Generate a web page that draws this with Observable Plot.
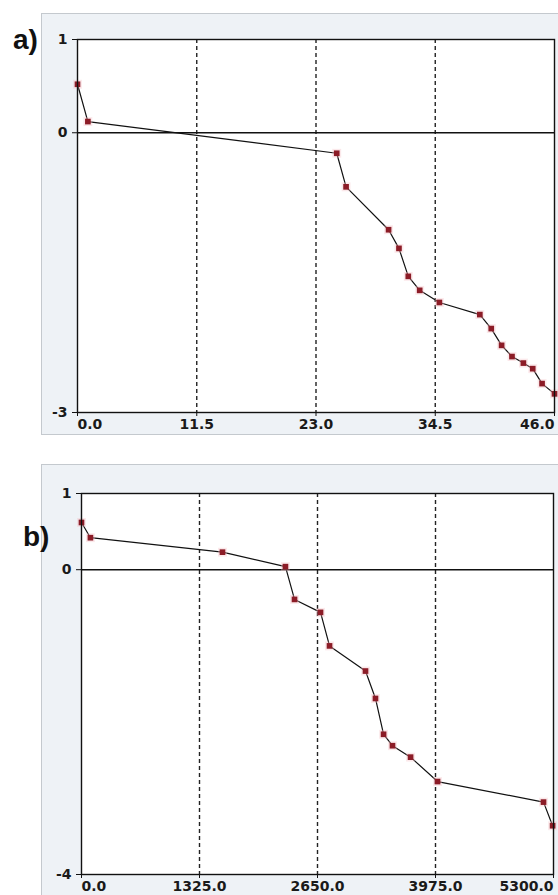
<!DOCTYPE html>
<html><head><meta charset="utf-8">
<script src="https://cdn.jsdelivr.net/npm/d3@7"></script>
<script src="https://cdn.jsdelivr.net/npm/@observablehq/plot@0.6"></script>
<style>
html,body{margin:0;padding:0;background:#fff;}
body{width:558px;height:895px;overflow:hidden;position:relative;}
.wrap{position:absolute;left:41px;border:1px solid #c4c9ce;border-right:none;background:#eef2f6;}
.wrap svg{display:block;}
.lbl{position:absolute;font:bold 28px/28px "Liberation Sans",Arial,sans-serif;color:#111;}
</style></head><body>
<div id="pa" class="wrap" style="top:13px;"></div>
<div id="pb" class="wrap" style="top:464px;border-bottom:none;"></div>
<div class="lbl" style="left:13px;top:26px;">a)</div>
<div class="lbl" style="left:23px;top:523px;">b)</div>
<script>
// ---- chart a) data ----
const xA = [0, 1.0, 25.0, 25.9, 30.0, 31.0, 31.9, 33.0, 34.9, 38.8, 39.9, 40.9, 41.9, 43.0, 43.9, 44.8, 46.0];
const yA = [0.52, 0.12, -0.22, -0.58, -1.04, -1.24, -1.54, -1.69, -1.82, -1.95, -2.10, -2.28, -2.40, -2.47, -2.53, -2.69, -2.80];
const xTicksA = [0, 11.5, 23.0, 34.5, 46.0];
const xTickLabelsA = ["0.0", "11.5", "23.0", "34.5", "46.0"];
const yTicksA = [1, 0, -3];
const yTickLabelsA = ["1", "0", "-3"];

// ---- chart b) data ----
const xB = [0, 100, 1583, 2290, 2392, 2684, 2785, 3189, 3301, 3392, 3492, 3695, 3998, 5188, 5290];
const yB = [0.62, 0.42, 0.23, 0.04, -0.39, -0.56, -1.00, -1.33, -1.69, -2.16, -2.31, -2.46, -2.78, -3.05, -3.36];
const xTicksB = [0, 1325, 2650, 3975, 5300];
const xTickLabelsB = ["0.0", "1325.0", "2650.0", "3975.0", "5300.0"];
const yTicksB = [1, 0, -4];
const yTickLabelsB = ["1", "0", "-4"];

function chart(xs, ys, xTicks, xLabels, yTicks, yLabels, dims) {
  const data = xs.map((x, i) => ({x, y: ys[i]}));
  const fmtX = d => xLabels[xTicks.indexOf(d)];
  const fmtY = d => yLabels[yTicks.indexOf(d)];
  const n = xTicks.length;
  const axOpts = {tickSize: 4, tickPadding: 3, tickFormat: fmtX, label: null, stroke: "#111", fill: "#1a1a1a"};
  return Plot.plot({
    width: 516,
    height: dims.h,
    marginTop: dims.mt,
    marginBottom: dims.mb,
    marginLeft: dims.ml,
    marginRight: dims.mr,
    style: {background: "#eef2f6", fontFamily: "'DejaVu Sans', Verdana, sans-serif", fontSize: "14px", fontWeight: "bold", color: "#1a1a1a"},
    x: {domain: [xTicks[0], xTicks[n - 1]]},
    y: {domain: [yTicks[yTicks.length - 1], yTicks[0]]},
    marks: [
      Plot.frame({fill: "white"}),
      Plot.ruleX(xTicks.slice(1, n - 1), {stroke: "#222", strokeWidth: 1.4, strokeDasharray: "4,3"}),
      Plot.ruleY([0], {stroke: "#111", strokeWidth: 1.4}),
      Plot.line(data, {x: "x", y: "y", stroke: "#111", strokeWidth: 1.2}),
      Plot.dot(data, {x: "x", y: "y", symbol: "square", r: 5, fill: "#f4bcc4", fillOpacity: 0.35}),
      Plot.dot(data, {x: "x", y: "y", symbol: "square", r: 3.2, fill: "#8c1c27"}),
      Plot.frame({stroke: "#111", strokeWidth: 1.4}),
      Plot.axisY({ticks: yTicks, tickFormat: fmtY, tickSize: 5, tickPadding: 5, label: null, stroke: "#111", fill: "#1a1a1a"}),
      Plot.axisX({...axOpts, ticks: [xTicks[0]], textAnchor: "start"}),
      Plot.axisX({...axOpts, ticks: xTicks.slice(1, n - 1)}),
      Plot.axisX({...axOpts, ticks: [xTicks[n - 1]], textAnchor: "end"})
    ]
  });
}

document.getElementById("pa").appendChild(
  chart(xA, yA, xTicksA, xTickLabelsA, yTicksA, yTickLabelsA, {h: 420, mt: 25, mb: 22, ml: 35, mr: 4})
);
document.getElementById("pb").appendChild(
  chart(xB, yB, xTicksB, xTickLabelsB, yTicksB, yTickLabelsB, {h: 431, mt: 28, mb: 22, ml: 39, mr: 5})
);
</script>
</body></html>
